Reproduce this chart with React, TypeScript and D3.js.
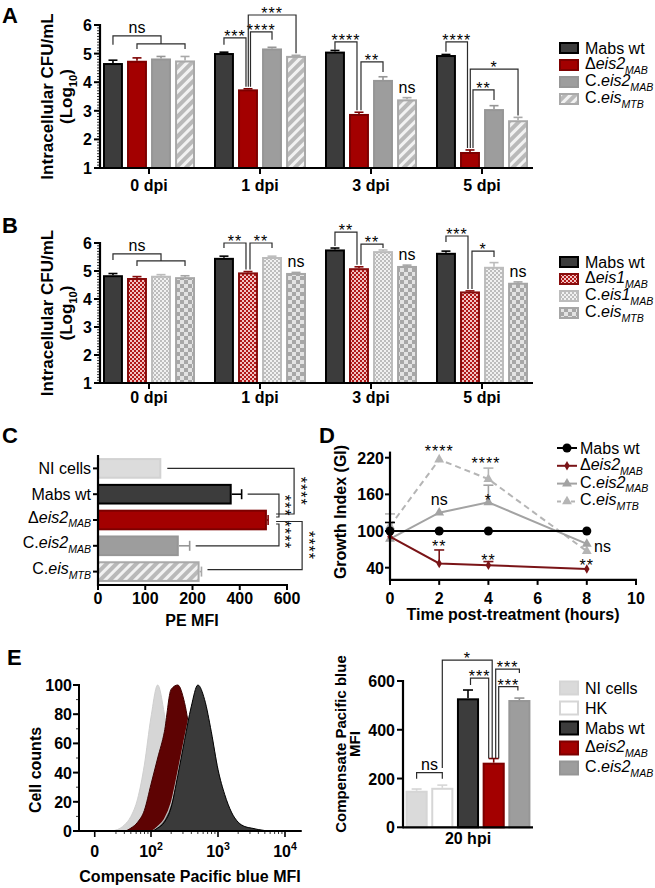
import React from 'react';
import * as d3 from 'd3';

const FONT = '"Liberation Sans", Arial, Helvetica, sans-serif';

// ---- panel A / B : intracellular CFU (log10) ----
const dpiGroups = ['0 dpi', '1 dpi', '3 dpi', '5 dpi'];

const aMabsWt = [4.67, 5.02, 5.07, 4.95];
const aMabsWtErr = [0.1, 0.03, 0.04, 0.02];
const aDeis2 = [4.75, 3.75, 2.89, 1.56];
const aDeis2Err = [0.1, 0.02, 0.06, 0.07];
const aCeis2 = [4.83, 5.18, 4.08, 3.06];
const aCeis2Err = [0.07, 0.04, 0.11, 0.12];
const aCeisMtb = [4.76, 4.92, 3.4, 2.67];
const aCeisMtbErr = [0.14, 0.02, 0.06, 0.1];

const bMabsWt = [4.85, 5.47, 5.77, 5.65];
const bMabsWtErr = [0.06, 0.06, 0.05, 0.06];
const bDeis1 = [4.75, 4.95, 5.1, 4.27];
const bDeis1Err = [0.05, 0.03, 0.05, 0.02];
const bCeis1 = [4.83, 5.5, 5.71, 5.15];
const bCeis1Err = [0.04, 0.03, 0.04, 0.15];
const bCeisMtb = [4.78, 4.93, 5.18, 4.58];
const bCeisMtbErr = [0.05, 0.02, 0.03, 0.03];

// ---- panel C : PE MFI ----
const cTicks = [0, 100, 200, 400, 600];
const cValues = [134, 366, 515, 171, 230];
const cErr = [0, 42, 5, 23, 8];

// ---- panel D : growth index ----
const dHours = [0, 2, 4, 8];
const dXTicks = [0, 2, 4, 6, 8, 10];
const dYTicks = [40, 100, 160, 220];
const dMabsWt = [100, 100, 100, 100];
const dMabsWtErr = [14, 0, 0, 0];
const dDeis2 = [91, 47, 44, 38];
const dDeis2Err = [0, 22, 6, 0];
const dCeis2 = [87, 130, 147, 79];
const dCeis2Err = [0, 0, 28, 0];
const dCeisMtb = [108, 217, 185, 67];
const dCeisMtbErr = [20, 0, 18, 0];

// ---- panel E : histogram (log10 of MFI) and bars ----
const eLogBins = [1.4, 1.5, 1.6, 1.7, 1.8, 1.9, 2.0, 2.1, 2.2, 2.3, 2.4, 2.5, 2.6, 2.7, 2.8, 2.9, 3.0, 3.1, 3.2, 3.3, 3.4, 3.5, 3.6, 3.7, 3.8];
const eHistNI = [0, 1, 4, 10, 22, 45, 78, 100, 80, 50, 25, 10, 4, 1, 0, 0, 0, 0, 0, 0, 0, 0, 0, 0, 0];
const eHistDeis2 = [0, 0, 0, 2, 6, 14, 32, 50, 68, 97, 100, 88, 62, 38, 20, 10, 5, 3, 2, 1, 1, 0.5, 0.3, 0, 0];
const eHistCeis2 = [0, 0, 0, 0, 0, 0, 0, 3, 8, 19, 40, 63, 84, 98, 88, 66, 42, 24, 12, 6, 3, 1.5, 0.5, 0, 0];
const eHistWt = [0, 0, 0, 0, 0, 0, 0, 2, 6, 16, 38, 62, 85, 100, 90, 68, 42, 25, 13, 6, 3, 2, 1, 0.3, 0];
const eCountTicks = [0, 20, 40, 60, 80, 100];
const eBarValues = [150, 162, 529, 265, 522];
const eBarErr = [7, 11, 34, 17, 8];
const eBarTicks = [0, 200, 400, 600];

type Part = [string, string];
const lblMabsWt: Part[] = [['Mabs wt', 'n']];
const lblNI: Part[] = [['NI cells', 'n']];
const lblHK: Part[] = [['HK', 'n']];
const lblDeis2: Part[] = [['Δ', 'n'], ['eis2', 'i'], ['MAB', 's']];
const lblCeis2: Part[] = [['C.', 'n'], ['eis2', 'i'], ['MAB', 's']];
const lblCeisMtb: Part[] = [['C.', 'n'], ['eis', 'i'], ['MTB', 's']];
const lblDeis1: Part[] = [['Δ', 'n'], ['eis1', 'i'], ['MAB', 's']];
const lblCeis1: Part[] = [['C.', 'n'], ['eis1', 'i'], ['MAB', 's']];

// significance brackets (levels in data units)
const aBrackets = [
  { g: 0, a: 0, b: [1, 3], lvl: 5.62, lvl2: 5.34, legA: 9, text: 'ns' },
  { g: 1, a: 0, b: 1, lvl: 5.55, legA: 7, legB: 'bar', dxB: -2, text: '***' },
  { g: 1, a: 1, b: 2, lvl: 5.76, legA: 'bar', dxA: 2.5, legB: 8, text: '****' },
  { g: 1, a: 1, b: 3, lvl: 6.35, legA: 'bar', dxA: 0.3, legB: 'bar', text: '***' },
  { g: 2, a: 0, b: 1, lvl: 5.41, legA: 8, legB: 'bar', dxB: -2, text: '****' },
  { g: 2, a: 1, b: 2, lvl: 4.71, legA: 'bar', dxA: 2, legB: 10, text: '**' },
  { g: 3, a: 0, b: 1, lvl: 5.41, legA: 10, legB: 'bar', dxB: -2.5, text: '****' },
  { g: 3, a: 1, b: 3, lvl: 4.46, legA: 'bar', dxA: 0.3, legB: 'bar', text: '*' },
  { g: 3, a: 1, b: 2, lvl: 3.73, legA: 'bar', dxA: 3, legB: 10, text: '**' },
];
const aNs = [{ g: 2, s: 3 }];

const bBrackets = [
  { g: 0, a: 0, b: [1, 3], lvl: 5.61, lvl2: 5.36, legA: 6, text: 'ns' },
  { g: 1, a: 0, b: 1, lvl: 6.0, legA: 5, legB: 'bar', dxB: -2, text: '**' },
  { g: 1, a: 1, b: 2, lvl: 6.0, legA: 'bar', dxA: 2, legB: 5, text: '**' },
  { g: 2, a: 0, b: 1, lvl: 6.39, legA: 'bar', legB: 'bar', dxB: -2, text: '**' },
  { g: 2, a: 1, b: 2, lvl: 5.96, legA: 'bar', dxA: 2, legB: 4, text: '**' },
  { g: 3, a: 0, b: 1, lvl: 6.25, legA: 6, legB: 'bar', dxB: -2, text: '***' },
  { g: 3, a: 1, b: 2, lvl: 5.71, legA: 'bar', dxA: 2, legB: 6, text: '*' },
];
const bNs = [{ g: 1, s: 3 }, { g: 2, s: 3 }, { g: 3, s: 3 }];

const cBrackets = [
  { a: 0, b: 2, lvl: 630, dyB: -6, text: '****' },
  { a: 1, b: 2, lvl: 566, dyB: -3, text: '***' },
  { a: 2, b: 3, lvl: 566, dyA: 4, text: '****' },
  { a: 2, b: 4, lvl: 664, dyA: 1.5, dyB: -2, text: '****' },
];

const dMarks = [
  { h: 2, v: 236, t: '****' }, { h: 3.9, v: 216, t: '****' },
  { h: 2, v: 149, t: 'ns' }, { h: 4, v: 156, t: '*' },
  { h: 2, v: 80, t: '**' }, { h: 4, v: 57, t: '**' }, { h: 8, v: 49, t: '**' },
  { h: 8.64, v: 72, t: 'ns' },
];

const eBrackets = [
  { a: 0, b: 1, lvl: 224, legA: 6, legB: 6, text: 'ns' },
  { a: 1, b: 3, lvl: 686, legA: 'bar', gapA: 17, legB: 'bar', dxB: -1.5, gapB: 0, text: '*' },
  { a: 2, b: 3, lvl: 612, legA: 7, dxA: 2.5, legB: 'bar', dxB: -5, gapB: 0, text: '***' },
  { a: 3, b: 4, lvl: 649, legA: 'bar', dxA: 2, gapA: 0, legB: 4, text: '***' },
  { a: 3, b: 4, lvl: 577, legA: 'bar', dxA: 5, gapA: 0, legB: 4, dxB: -1.5, text: '***' },
];

// ---------------- helpers ----------------
function Rich({ x, y, parts, size = 16, anchor = 'start', weight = 'normal', rotate = 0, fill = '#000' }: any) {
  let shift = 0;
  const spans = parts.map(([t, k]: Part, i: number) => {
    let target = 0;
    let fs = size;
    let style = 'normal';
    if (k === 'i') style = 'italic';
    if (k === 's') { target = size * 0.3; fs = size * 0.66; style = 'italic'; }
    if (k === 'r') { target = size * 0.3; fs = size * 0.66; }
    if (k === 'p') { target = -size * 0.42; fs = size * 0.66; }
    const dy = target - shift;
    shift = target;
    return (
      <tspan key={i} dy={dy !== 0 ? dy : undefined} fontSize={fs} fontStyle={style}>{t}</tspan>
    );
  });
  return (
    <text x={x} y={y} textAnchor={anchor} fontWeight={weight} fill={fill} fontSize={size}
      transform={rotate ? `rotate(${rotate},${x},${y})` : undefined}>{spans}</text>
  );
}

const STROKE = '#2b2b2b';

function Bracket({ spec, xOf, topOf, y }: any) {
  const yl = y(spec.lvl);
  const legEnd = (leg: any, s: number, gap: any) => (leg === 'bar' ? topOf(s) - (gap ?? 2) : yl + leg);
  let d = '';
  let tx = 0;
  if (Array.isArray(spec.b)) {
    const yl2 = y(spec.lvl2);
    const x1 = xOf(spec.b[0]);
    const x2 = xOf(spec.b[1]);
    const xm = (x1 + x2) / 2;
    const xa = xOf(spec.a);
    d = `M${xa},${yl + spec.legA}V${yl}H${xm}V${yl2}M${x1},${yl2 + 5}V${yl2}H${x2}V${yl2 + 5}`;
    tx = (xa + xm) / 2;
  } else {
    const xa = xOf(spec.a) + (spec.dxA || 0);
    const xb = xOf(spec.b) + (spec.dxB || 0);
    d = `M${xa},${legEnd(spec.legA, spec.a, spec.gapA)}V${yl}H${xb}V${legEnd(spec.legB, spec.b, spec.gapB)}`;
    tx = (xa + xb) / 2;
  }
  const isNs = spec.text === 'ns';
  return (
    <g>
      <path d={d} fill="none" stroke={STROKE} strokeWidth={1.2} />
      <text x={tx} y={isNs ? yl - 3 : yl + 4} textAnchor="middle" fontSize={16}
        letterSpacing={isNs ? 0 : 1}>{spec.text}</text>
    </g>
  );
}

function Legend({ x, y0, step, rows, w = 20, h = 10 }: any) {
  return (
    <g>
      {rows.map((r: any, i: number) => {
        const cy = y0 + i * step;
        const hasSub = r.label.some((p: Part) => p[1] === 's');
        return (
          <g key={i}>
            <rect x={x + 1} y={cy - h / 2} width={w - 2} height={h} fill={r.fill} stroke={r.stroke} strokeWidth={2} />
            <Rich x={x + w + 6} y={cy + 5.5 - (hasSub ? 1.5 : 0)} parts={r.label} size={16} />
          </g>
        );
      })}
    </g>
  );
}

// ---------------- grouped bar panels (A, B) ----------------
const groupX = d3.scalePoint<string>().domain(dpiGroups).range([149, 482]);
const innerX = d3.scaleBand<string>().domain(['0', '1', '2', '3']).range([-46, 46]).paddingInner(0.17);

function GroupedPanel({ y, series, brackets, ns, labelBase, legendY }: any) {
  const bw = innerX.bandwidth();
  const bx = (g: number, s: number) => (groupX(dpiGroups[g]) as number) + (innerX(String(s)) as number);
  const cx = (g: number, s: number) => bx(g, s) + bw / 2;
  const top = (g: number, s: number) => y(series[s].values[g] + series[s].err[g]);
  const base = y(1);
  const axisX = 100;
  const yMid = (y(1) + y(6)) / 2;
  return (
    <g>
      {series.map((s: any, si: number) =>
        s.values.map((v: number, gi: number) => {
          const c = cx(gi, si);
          const et = y(v + s.err[gi]);
          return (
            <g key={`${si}-${gi}`}>
              <line x1={c} x2={c} y1={y(v)} y2={et} stroke={s.stroke} strokeWidth={1.6} />
              <line x1={c - 4.5} x2={c + 4.5} y1={et} y2={et} stroke={s.stroke} strokeWidth={1.6} />
              <rect x={bx(gi, si) + 1} y={y(v) + 1} width={bw - 2} height={base - y(v) - 1}
                fill={s.fill} stroke={s.stroke} strokeWidth={2} />
            </g>
          );
        })
      )}
      {/* axes */}
      {y.ticks(50).map((t: number) => (
        <line key={t} x1={axisX - 3} x2={axisX} y1={y(t)} y2={y(t)} stroke="#000" strokeWidth={0.8} />
      ))}
      {y.ticks(5).map((t: number) => (
        <g key={t}>
          <line x1={axisX - 6} x2={axisX} y1={y(t)} y2={y(t)} stroke="#000" strokeWidth={2} />
          <text x={axisX - 8} y={y(t) + 6} textAnchor="end" fontWeight="bold" fontSize={16}>{t}</text>
        </g>
      ))}
      <line x1={axisX} x2={axisX} y1={y(6) - 1} y2={base + 1} stroke="#000" strokeWidth={2.2} />
      <line x1={axisX} x2={533} y1={base} y2={base} stroke="#000" strokeWidth={2.2} />
      {dpiGroups.map((g) => (
        <g key={g}>
          <line x1={groupX(g)} x2={groupX(g)} y1={base} y2={base + 6} stroke="#000" strokeWidth={2} />
          <text x={groupX(g)} y={labelBase} textAnchor="middle" fontWeight="bold" fontSize={16}>{g}</text>
        </g>
      ))}
      <text x={53} y={yMid} textAnchor="middle" fontWeight="bold" fontSize={17}
        transform={`rotate(-90,53,${yMid})`}>Intracellular CFU/mL</text>
      <Rich x={72} y={yMid} parts={[['(Log', 'n'], ['10', 'r'], [')', 'n']]} size={17} weight="bold"
        anchor="middle" rotate={-90} />
      {brackets.map((b: any, i: number) => (
        <Bracket key={i} spec={b} y={y} xOf={(s: number) => cx(b.g, s)} topOf={(s: number) => top(b.g, s)} />
      ))}
      {ns.map((n: any, i: number) => (
        <text key={i} x={cx(n.g, n.s)} y={top(n.g, n.s) - 5} textAnchor="middle" fontSize={16}>ns</text>
      ))}
      <Legend x={559} y0={legendY} step={17} rows={series} />
    </g>
  );
}

// ---------------- panel C ----------------
function PanelC() {
  const x = d3.scaleLinear().domain(cTicks).range(cTicks.map((_, i) => 98 + i * 47.25));
  const cats = ['0', '1', '2', '3', '4'];
  const yb = d3.scaleBand<string>().domain(cats).range([455.5, 584.5]).paddingInner(0.2).paddingOuter(0.1);
  const cyOf = (i: number) => (yb(String(i)) as number) + yb.bandwidth() / 2;
  const styles = [
    { fill: '#dcdcdc', stroke: '#d2d2d2', label: lblNI },
    { fill: '#3c3c3c', stroke: '#000', label: lblMabsWt },
    { fill: '#a30000', stroke: '#7d0000', label: lblDeis2 },
    { fill: '#9d9d9d', stroke: '#969696', label: lblCeis2 },
    { fill: 'url(#stripes)', stroke: '#a9a9a9', label: lblCeisMtb },
  ];
  const x0 = x(0);
  return (
    <g>
      {cValues.map((v, i) => {
        const y0 = yb(String(i)) as number;
        const cy = cyOf(i);
        const s = styles[i];
        const ex = x(v + cErr[i]);
        return (
          <g key={i}>
            {cErr[i] > 0 && (
              <g>
                <line x1={x(v)} x2={ex} y1={cy} y2={cy} stroke={s.stroke} strokeWidth={1.6} />
                <line x1={ex} x2={ex} y1={cy - 5} y2={cy + 5} stroke={s.stroke} strokeWidth={1.6} />
              </g>
            )}
            <rect x={x0} y={y0 + 1} width={x(v) - x0 - 1} height={yb.bandwidth() - 2}
              fill={s.fill} stroke={s.stroke} strokeWidth={2} />
            <line x1={x0 - 5} x2={x0} y1={cy} y2={cy} stroke="#000" strokeWidth={2} />
            <Rich x={91} y={cy + 5.5 - (s.label.length > 1 ? 3 : 0)} parts={s.label} size={16} anchor="end" />
          </g>
        );
      })}
      <line x1={x0} x2={x0} y1={455} y2={586} stroke="#000" strokeWidth={2.2} />
      <line x1={x0} x2={x(600) + 1} y1={585} y2={585} stroke="#000" strokeWidth={2.2} />
      {cTicks.map((t) => (
        <g key={t}>
          <line x1={x(t)} x2={x(t)} y1={585} y2={590} stroke="#000" strokeWidth={2} />
          <text x={x(t)} y={604} textAnchor="middle" fontWeight="bold" fontSize={16}>{t}</text>
        </g>
      ))}
      <text x={192} y={626} textAnchor="middle" fontWeight="bold" fontSize={16}>PE MFI</text>
      {cBrackets.map((b, i) => {
        const xl = x(b.lvl);
        const ya = cyOf(b.a) + (b.dyA || 0);
        const ybb = cyOf(b.b) + (b.dyB || 0);
        const ea = x(cValues[b.a] + cErr[b.a]) + (b.a === 2 ? 8 : 6);
        const eb = x(cValues[b.b] + cErr[b.b]) + (b.b === 2 ? 8 : 6);
        const my = (ya + ybb) / 2;
        const tx = xl + 0.5;
        return (
          <g key={i}>
            <path d={`M${ea},${ya}H${xl}V${ybb}H${eb}`} fill="none" stroke={STROKE} strokeWidth={1.2} />
            <text x={tx} y={my} textAnchor="middle" fontSize={16} letterSpacing={1}
              transform={`rotate(90,${tx},${my})`}>{b.text}</text>
          </g>
        );
      })}
    </g>
  );
}

// ---------------- panel D ----------------
function PanelD() {
  const x = d3.scaleLinear().domain([0, 10]).range([390, 636]);
  const y = d3.scaleLinear().domain([20, 230]).range([579.9, 451.6]);
  const line = d3.line<number>().x((_, i) => x(dHours[i])).y((d) => y(d));
  const tri = d3.symbol().type(d3.symbolTriangle).size(42)() as string;
  const dia = d3.symbol().type(d3.symbolDiamond).size(26)() as string;
  const series = [
    { v: dCeisMtb, e: dCeisMtbErr, color: '#b5b5b5', dash: '6,4', marker: 'tri', label: lblCeisMtb },
    { v: dCeis2, e: dCeis2Err, color: '#a3a3a3', dash: undefined, marker: 'tri', label: lblCeis2 },
    { v: dDeis2, e: dDeis2Err, color: '#7a1417', dash: undefined, marker: 'dia', label: lblDeis2 },
    { v: dMabsWt, e: dMabsWtErr, color: '#000', dash: undefined, marker: 'dot', label: lblMabsWt },
  ];
  const mark = (m: string, cx: number, cy: number, color: string, k: any) =>
    m === 'dot' ? <circle key={k} cx={cx} cy={cy} r={4.5} fill={color} />
      : <path key={k} d={m === 'tri' ? tri : dia} transform={`translate(${cx},${cy})`} fill={color} />;
  const legendOrder = [3, 2, 1, 0];
  return (
    <g>
      {series.map((s, si) => (
        <g key={si}>
          <path d={line(s.v) as string} fill="none" stroke={s.color} strokeWidth={2} strokeDasharray={s.dash} />
          {s.v.map((v, i) => s.e[i] > 0 && (
            <g key={i}>
              <line x1={x(dHours[i])} x2={x(dHours[i])} y1={y(v)} y2={y(v + s.e[i])} stroke={s.color} strokeWidth={1.6} />
              <line x1={x(dHours[i]) - 5} x2={x(dHours[i]) + 5} y1={y(v + s.e[i])} y2={y(v + s.e[i])} stroke={s.color} strokeWidth={1.6} />
            </g>
          ))}
          {s.v.map((v, i) => mark(s.marker, x(dHours[i]), y(v), s.color, i))}
        </g>
      ))}
      <line x1={390} x2={390} y1={y(230)} y2={y(20) + 1} stroke="#000" strokeWidth={2.2} />
      <line x1={390} x2={x(10) + 1} y1={y(20)} y2={y(20)} stroke="#000" strokeWidth={2.2} />
      {dYTicks.map((t) => (
        <g key={t}>
          <line x1={385} x2={390} y1={y(t)} y2={y(t)} stroke="#000" strokeWidth={2} />
          <text x={384} y={y(t) + 6} textAnchor="end" fontWeight="bold" fontSize={16}>{t}</text>
        </g>
      ))}
      {dXTicks.map((t) => (
        <g key={t}>
          <line x1={x(t)} x2={x(t)} y1={y(20)} y2={y(20) + 5} stroke="#000" strokeWidth={2} />
          <text x={x(t)} y={604} textAnchor="middle" fontWeight="bold" fontSize={16}>{t}</text>
        </g>
      ))}
      <text x={513} y={620} textAnchor="middle" fontWeight="bold" fontSize={16}>Time post-treatment (hours)</text>
      <text x={346} y={512} textAnchor="middle" fontWeight="bold" fontSize={16}
        transform="rotate(-90,346,512)">Growth Index (GI)</text>
      {dMarks.map((m, i) => (
        <text key={i} x={x(m.h)} y={y(m.v) + (m.t === 'ns' ? 4 : 9)} textAnchor="middle" fontSize={16}
          letterSpacing={m.t === 'ns' ? 0 : 1}>{m.t}</text>
      ))}
      {legendOrder.map((si, r) => {
        const s = series[si];
        const cy = 448 + r * 17.8;
        return (
          <g key={r}>
            <line x1={557} x2={577} y1={cy} y2={cy} stroke={s.color} strokeWidth={2} strokeDasharray={s.dash ? '4,3' : undefined} />
            {mark(s.marker, 567, cy, s.color, 'm')}
            <Rich x={580} y={cy + 5.5 - (s.label.length > 1 ? 1.5 : 0)} parts={s.label} size={16} />
          </g>
        );
      })}
    </g>
  );
}

// ---------------- panel E ----------------
function PanelE() {
  const x = d3.scaleLinear().domain([2, 4]).range([151, 285]);
  const y = d3.scaleLinear().domain([0, 100]).range([831, 685]);
  const area = (vals: number[]) =>
    d3.area<number>().x((_, i) => x(eLogBins[i])).y0(y(0)).y1((d) => y(d)).curve(d3.curveMonotoneX)(vals) as string;
  const zeroPos = 1.16;
  const minor: number[] = [];
  [1, 2, 3].forEach((dec) => d3.range(2, 10).forEach((m) => {
    const p = dec + Math.log10(m);
    if (p > 1.45) minor.push(p);
  }));
  // right bar chart
  const bx = d3.scaleBand<string>().domain(['0', '1', '2', '3', '4']).range([403, 533]).paddingInner(0.14).paddingOuter(0.1);
  const by = d3.scaleLinear().domain([0, 600]).range([827.3, 681]);
  const bw = bx.bandwidth();
  const styles = [
    { fill: '#dadada', stroke: '#d5d5d5', label: lblNI },
    { fill: '#fff', stroke: '#d6d6d6', label: lblHK },
    { fill: '#3c3c3c', stroke: '#000', label: lblMabsWt },
    { fill: '#a30000', stroke: '#7d0000', label: lblDeis2 },
    { fill: '#9d9d9d', stroke: '#969696', label: lblCeis2 },
  ];
  const bcx = (i: number) => (bx(String(i)) as number) + bw / 2;
  const btop = (i: number) => by(eBarValues[i] + eBarErr[i]);
  return (
    <g>
      <path d={area(eHistNI)} fill="#d6d6d6" stroke="#cfcfcf" strokeWidth={1} />
      <path d={area(eHistDeis2)} fill="#5e0303" stroke="#3d0000" strokeWidth={1} />
      <path d={area(eHistCeis2)} fill="#3f3f3f" stroke="#bdbdbd" strokeWidth={1.2} />
      <path d={area(eHistWt)} fill="#3a3a3a" stroke="#000" strokeWidth={1} />
      {y.ticks(10).map((t) => (
        <line key={t} x1={76} x2={79} y1={y(t)} y2={y(t)} stroke="#000" strokeWidth={0.8} />
      ))}
      {eCountTicks.map((t) => (
        <g key={t}>
          <line x1={73} x2={79} y1={y(t)} y2={y(t)} stroke="#000" strokeWidth={2} />
          <text x={72} y={y(t) + 6} textAnchor="end" fontWeight="bold" fontSize={16}>{t}</text>
        </g>
      ))}
      <line x1={79} x2={79} y1={y(100) - 1} y2={y(0) + 1} stroke="#000" strokeWidth={2} />
      <line x1={79} x2={x(4.25)} y1={y(0)} y2={y(0)} stroke="#000" strokeWidth={2} />
      {minor.map((p) => (
        <line key={p} x1={x(p)} x2={x(p)} y1={y(0)} y2={y(0) + 3} stroke="#000" strokeWidth={0.8} />
      ))}
      {[zeroPos, 2, 3, 4].map((p) => (
        <line key={p} x1={x(p)} x2={x(p)} y1={y(0)} y2={y(0) + 6} stroke="#000" strokeWidth={1.6} />
      ))}
      <text x={x(zeroPos)} y={857} textAnchor="middle" fontWeight="bold" fontSize={16}>0</text>
      {[2, 3, 4].map((p) => (
        <Rich key={p} x={x(p)} y={857} parts={[['10', 'n'], [String(p), 'p']]} size={16} weight="bold" anchor="middle" />
      ))}
      <text x={41} y={770} textAnchor="middle" fontWeight="bold" fontSize={16}
        transform="rotate(-90,41,770)">Cell counts</text>
      <text x={190} y={882} textAnchor="middle" fontWeight="bold" fontSize={16}>Compensate Pacific blue MFI</text>

      {eBarValues.map((v, i) => {
        const s = styles[i];
        const c = bcx(i);
        const et = by(v + eBarErr[i]);
        return (
          <g key={i}>
            <line x1={c} x2={c} y1={by(v)} y2={et} stroke={s.stroke} strokeWidth={1.6} />
            <line x1={c - 5} x2={c + 5} y1={et} y2={et} stroke={s.stroke} strokeWidth={1.6} />
            <rect x={(bx(String(i)) as number) + 1} y={by(v) + 1} width={bw - 2} height={by(0) - by(v) - 1}
              fill={s.fill} stroke={s.stroke} strokeWidth={2} />
          </g>
        );
      })}
      {eBarTicks.map((t) => (
        <g key={t}>
          <line x1={397} x2={403} y1={by(t)} y2={by(t)} stroke="#000" strokeWidth={2} />
          <text x={395} y={by(t) + 6} textAnchor="end" fontWeight="bold" fontSize={16}>{t}</text>
        </g>
      ))}
      <line x1={403} x2={403} y1={by(600) - 1} y2={by(0) + 1} stroke="#000" strokeWidth={2.2} />
      <line x1={403} x2={533} y1={by(0)} y2={by(0)} stroke="#000" strokeWidth={2.2} />
      <text x={468} y={844} textAnchor="middle" fontWeight="bold" fontSize={16}>20 hpi</text>
      <text x={346} y={744} textAnchor="middle" fontWeight="bold" fontSize={15}
        transform="rotate(-90,346,744)">Compensate Pacific blue</text>
      <text x={360} y={744} textAnchor="middle" fontWeight="bold" fontSize={15}
        transform="rotate(-90,360,744)">MFI</text>
      {eBrackets.map((b, i) => (
        <Bracket key={i} spec={b} y={by} xOf={bcx} topOf={btop} />
      ))}
      <Legend x={559} y0={688} step={20} rows={styles} h={13} />
    </g>
  );
}

export default function App() {
  const aSeries = [
    { values: aMabsWt, err: aMabsWtErr, fill: '#3c3c3c', stroke: '#000', label: lblMabsWt },
    { values: aDeis2, err: aDeis2Err, fill: '#a30000', stroke: '#7d0000', label: lblDeis2 },
    { values: aCeis2, err: aCeis2Err, fill: '#9d9d9d', stroke: '#969696', label: lblCeis2 },
    { values: aCeisMtb, err: aCeisMtbErr, fill: 'url(#stripes)', stroke: '#a9a9a9', label: lblCeisMtb },
  ];
  const bSeries = [
    { values: bMabsWt, err: bMabsWtErr, fill: '#3c3c3c', stroke: '#000', label: lblMabsWt },
    { values: bDeis1, err: bDeis1Err, fill: 'url(#checkRed)', stroke: '#870c0c', label: lblDeis1 },
    { values: bCeis1, err: bCeis1Err, fill: 'url(#checkFine)', stroke: '#bcbcbc', label: lblCeis1 },
    { values: bCeisMtb, err: bCeisMtbErr, fill: 'url(#checkBig)', stroke: '#a6a6a6', label: lblCeisMtb },
  ];
  const yA = d3.scaleLinear().domain([1, 6]).range([168, 25]);
  const yB = d3.scaleLinear().domain([1, 6]).range([383, 243]);
  return (
    <svg width={655} height={888} style={{ position: 'absolute', left: 0, top: 0, background: '#fff' }}
      fontFamily={FONT}>
      <defs>
        <pattern id="stripes" patternUnits="userSpaceOnUse" width={7} height={7} patternTransform="rotate(45)">
          <rect width={7} height={7} fill="#b9b9b9" />
          <rect width={3} height={7} fill="#f2f2f2" />
        </pattern>
        <pattern id="checkRed" patternUnits="userSpaceOnUse" width={4} height={4}>
          <rect width={4} height={4} fill="#f2c4c4" />
          <rect width={2} height={2} fill="#b01818" />
          <rect x={2} y={2} width={2} height={2} fill="#b01818" />
        </pattern>
        <pattern id="checkFine" patternUnits="userSpaceOnUse" width={4} height={4}>
          <rect width={4} height={4} fill="#f1f1f1" />
          <rect width={2} height={2} fill="#bdbdbd" />
          <rect x={2} y={2} width={2} height={2} fill="#bdbdbd" />
        </pattern>
        <pattern id="checkBig" patternUnits="userSpaceOnUse" width={8} height={8}>
          <rect width={8} height={8} fill="#e3e3e3" />
          <rect width={4} height={4} fill="#a7a7a7" />
          <rect x={4} y={4} width={4} height={4} fill="#a7a7a7" />
        </pattern>
      </defs>
      <g fontWeight="bold" fontSize={22}>
        <text x={2} y={23}>A</text>
        <text x={2} y={233}>B</text>
        <text x={2} y={443}>C</text>
        <text x={319} y={443}>D</text>
        <text x={7} y={665}>E</text>
      </g>
      <GroupedPanel y={yA} series={aSeries} brackets={aBrackets} ns={aNs} labelBase={191} legendY={48} />
      <GroupedPanel y={yB} series={bSeries} brackets={bBrackets} ns={bNs} labelBase={403} legendY={262} />
      <PanelC />
      <PanelD />
      <PanelE />
    </svg>
  );
}
